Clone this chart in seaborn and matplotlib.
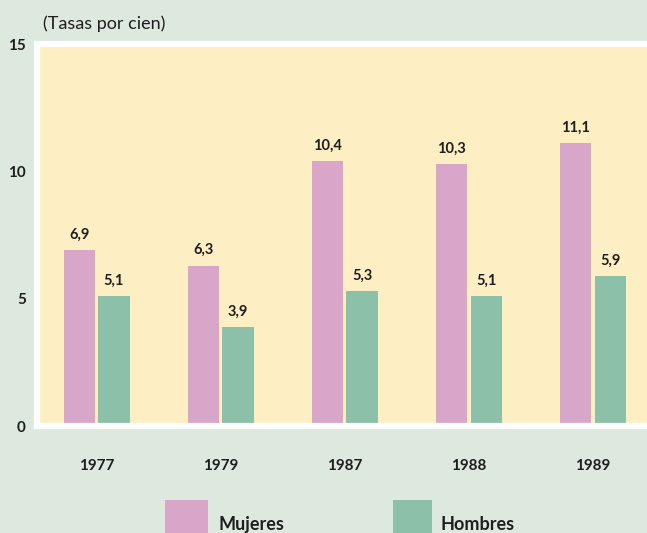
import pandas as pd
import matplotlib.pyplot as plt
from matplotlib.patches import Rectangle
import seaborn as sns

# Data
years = ['1977', '1979', '1987', '1988', '1989']
mujeres = [6.9, 6.3, 10.4, 10.3, 11.1]
hombres = [5.1, 3.9, 5.3, 5.1, 5.9]
series = ['Mujeres', 'Hombres']

bg = '#dde8df'
plot_bg = '#fdeec3'
colors = {'Mujeres': '#d8a6c9', 'Hombres': '#8dc0a8'}
ink = '#1e1e1e'

df = pd.DataFrame({
    'Año': years * 2,
    'Tasa': mujeres + hombres,
    'Sexo': ['Mujeres'] * len(years) + ['Hombres'] * len(years),
})

sns.set_style('white')
plt.rcParams['font.family'] = ['Lato', 'DejaVu Sans']

W, H = 647, 533
fig = plt.figure(figsize=(W / 100, H / 100), dpi=100, facecolor=bg)
ax = fig.add_axes([37 / W, 1 - 426 / H, 613 / W, 382 / H])
ax.set_facecolor(plot_bg)

sns.barplot(data=df, x='Año', y='Tasa', hue='Sexo', hue_order=series,
            palette=colors, width=0.56, gap=0.1, saturation=1,
            edgecolor='none', ax=ax, legend=False)

# value labels
for cont in ax.containers:
    ax.bar_label(cont, labels=[f'{v:.1f}'.replace('.', ',') for v in cont.datavalues],
                 padding=6, fontsize=10.5, fontweight='bold', color=ink)

ax.set_ylim(0, 15)
ax.set_xlim(-0.48, 4.46)
ax.set_yticks([0, 5, 10, 15])
ax.set_xlabel('')
ax.set_ylabel('')
ax.tick_params(axis='y', length=0, pad=8, labelsize=11)
ax.tick_params(axis='x', length=0, pad=24, labelsize=11)
for lab in ax.get_xticklabels() + ax.get_yticklabels():
    lab.set_fontweight('bold')
    lab.set_color(ink)
for s in ax.spines.values():
    s.set_color('white')
    s.set_linewidth(4.5)
ax.spines['right'].set_visible(False)

fig.text(43 / W, 1 - 24 / H, '(Tasas por cien)', fontsize=13,
         va='center', ha='left', color=ink)

# legend
leg = [(165, 43, 218), (393, 39, 441)]
for s, (x0, w, tx) in zip(series, leg):
    fig.add_artist(Rectangle((x0 / W, 0), w / W, 33 / H, transform=fig.transFigure,
                             color=colors[s], lw=0))
    fig.text(tx / W, 1 - 530 / H, s, fontsize=13, fontweight='bold',
             ha='left', va='baseline', color=ink)

fig.savefig('out.png', dpi=100, facecolor=bg)
